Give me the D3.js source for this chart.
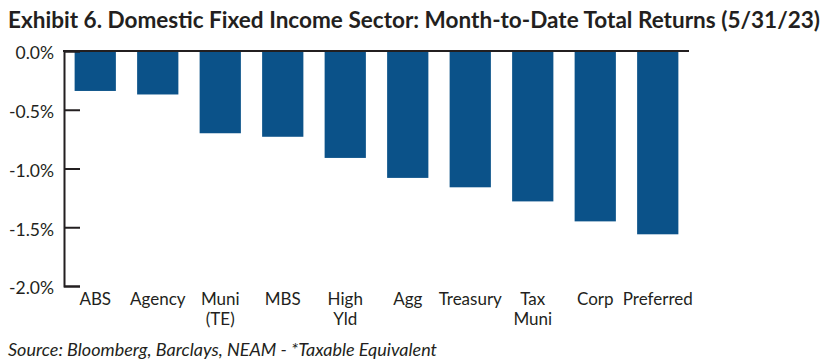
<!DOCTYPE html>
<html>
<head>
<meta charset="utf-8">
<script src="https://cdn.jsdelivr.net/npm/d3@7"></script>
<style>
  body { margin: 0; background: #fff; }
  svg { display: block; }
  .tick text { font-family: Lato, "Open Sans", sans-serif; }
</style>
</head>
<body>
<svg id="chart" width="830" height="361"></svg>
<script>
// Chart data
var sectors = ["ABS", "Agency", "Muni|(TE)", "MBS", "High|Yld", "Agg", "Treasury", "Tax|Muni", "Corp", "Preferred"];
var returns = [-0.34, -0.37, -0.70, -0.73, -0.91, -1.08, -1.16, -1.28, -1.45, -1.56];
var yTicks = [0, -0.5, -1.0, -1.5, -2.0];

var title = "Exhibit 6. Domestic Fixed Income Sector: Month-to-Date Total Returns (5/31/23)";
var source = "Source: Bloomberg, Barclays, NEAM - *Taxable Equivalent";

var svg = d3.select("#chart");
var plotLeft = 64, plotRight = 689, plotTop = 51, plotBottom = 286;

var x = d3.scaleBand()
  .domain(sectors)
  .range([plotLeft, plotRight])
  .paddingInner(0.34)
  .paddingOuter(0.17);

var y = d3.scaleLinear()
  .domain([0, -2])
  .range([plotTop, plotBottom]);

// Title, stretched to the reference width
svg.append("text")
  .attr("x", 8)
  .attr("y", 28)
  .attr("font-family", "Lato, sans-serif")
  .attr("font-weight", 700)
  .attr("font-size", 22)
  .attr("fill", "#231f20")
  .attr("textLength", 812)
  .attr("lengthAdjust", "spacingAndGlyphs")
  .text(title);

// Bars
svg.selectAll("rect.bar")
  .data(returns)
  .enter()
  .append("rect")
  .attr("class", "bar")
  .attr("x", function (d, i) { return x(sectors[i]); })
  .attr("y", y(0))
  .attr("width", x.bandwidth())
  .attr("height", function (d) { return y(d) - y(0); })
  .attr("fill", "#0b5289");

// Y axis, ticks point into the plot
var yAxis = svg.append("g")
  .attr("transform", "translate(" + plotLeft + ",0)")
  .call(d3.axisLeft(y)
    .tickValues(yTicks)
    .tickSize(-16)
    .tickPadding(10)
    .tickFormat(function (d) { return d.toFixed(1) + "%"; }));
yAxis.select(".domain").attr("stroke", "#231f20").attr("stroke-width", 2);
yAxis.selectAll(".tick line").attr("stroke", "#231f20").attr("stroke-width", 2);
yAxis.selectAll(".tick text")
  .attr("font-size", 17.5)
  .attr("fill", "#231f20")
  .attr("dy", "0.45em");

// Zero line
svg.append("line")
  .attr("x1", plotLeft - 1)
  .attr("x2", plotRight)
  .attr("y1", y(0))
  .attr("y2", y(0))
  .attr("stroke", "#231f20")
  .attr("stroke-width", 2);

// Category labels under the plot
var labels = svg.append("g")
  .selectAll("text")
  .data(sectors)
  .enter()
  .append("text")
  .attr("x", function (d) { return x(d) + x.bandwidth() / 2; })
  .attr("y", 305)
  .attr("text-anchor", "middle")
  .attr("font-family", "Lato, sans-serif")
  .attr("font-size", 17)
  .attr("fill", "#231f20");

labels.selectAll("tspan")
  .data(function (d) { return d.split("|"); })
  .enter()
  .append("tspan")
  .attr("x", function () { return this.parentNode.getAttribute("x"); })
  .attr("dy", function (d, i) { return i ? 20 : 0; })
  .text(function (d) { return d; });

// Source note
svg.append("text")
  .attr("x", 8)
  .attr("y", 356)
  .attr("font-family", "Lato, sans-serif")
  .attr("font-style", "italic")
  .attr("font-size", 17)
  .attr("fill", "#231f20")
  .attr("textLength", 429)
  .attr("lengthAdjust", "spacingAndGlyphs")
  .text(source);
</script>
</body>
</html>
